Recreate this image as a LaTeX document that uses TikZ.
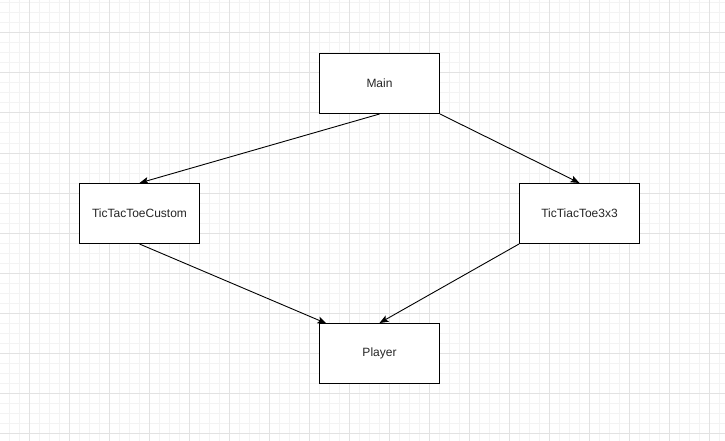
\documentclass[tikz,border=0pt]{standalone}
\usepackage{fontspec}
\setmainfont{Liberation Sans}
\usetikzlibrary{arrows.meta}
\definecolor{minorgrid}{HTML}{F3F3F3}
\definecolor{majorgrid}{HTML}{E2E2E2}
\begin{document}
\begin{tikzpicture}[x=1pt,y=-1pt,
  box/.style={draw=black,line width=1pt,fill=white,minimum width=120pt,minimum height=60pt,inner sep=0pt,font=\fontsize{12}{14}\selectfont,text=black!85},
  conn/.style={draw=black,line width=0.9pt,-{Stealth[length=9pt,width=7pt,inset=2pt]}}]
\useasboundingbox (0,0) rectangle (725,441);
\fill[white] (0,0) rectangle (725,441);
\foreach \x in {9,19,...,719} \draw[minorgrid,line width=1pt] (\x,0) -- (\x,441);
\foreach \y in {3,13,...,440} \draw[minorgrid,line width=1pt] (0,\y) -- (725,\y);
\foreach \x in {29,69,...,719} \draw[majorgrid,line width=1pt] (\x,0) -- (\x,441);
\foreach \y in {33,73,...,440} \draw[majorgrid,line width=1pt] (0,\y) -- (725,\y);
\node[box] (main) at (379.5,83.5) {Main};
\node[box] (custom) at (139.5,213.5) {TicTacToeCustom};
\node[box] (t3) at (579.5,213.5) {TicTiacToe3x3};
\node[box] (player) at (379.5,353.5) {Player};
\coordinate (pin) at (326.5,323.5);
\draw[conn] (main.south) -- (custom.north);
\draw[conn] (main.south east) -- (t3.north);
\draw[conn] (custom.south) -- (pin);
\draw[conn] (t3.south west) -- (player.north);
\end{tikzpicture}
\end{document}
